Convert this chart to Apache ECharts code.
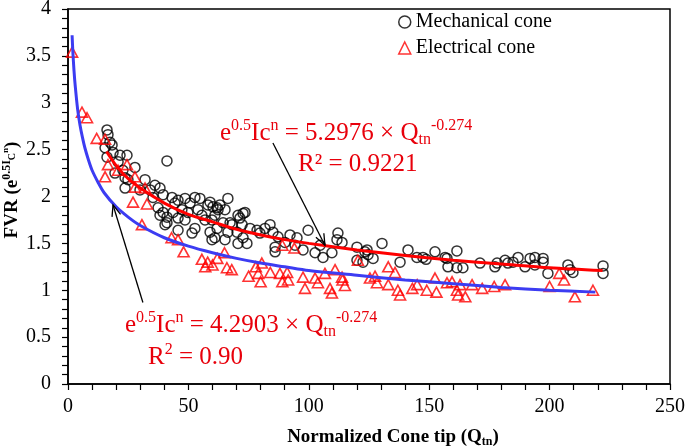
<!DOCTYPE html>
<html><head><meta charset="utf-8">
<script src="https://cdn.jsdelivr.net/npm/echarts@6/dist/echarts.min.js"></script>
<style>html,body{margin:0;padding:0;background:#fff}#c{width:685px;height:448px}</style>
</head><body><div id="c"></div><script>
// ---- data ----
const xTickLabels = ['0','50','100','150','200','250'];
const yTickLabels = ['0','0.5','1','1.5','2','2.5','3','3.5','4'];
const seriesNames = ['Mechanical cone','Electrical cone'];

const mechanicalCone = [
[16.2,2.71],[16.6,2.66],[17.4,2.58],[18.3,2.55],[15.4,2.52],[16.2,2.42],[18.7,2.47],[21.6,2.44],[24.5,2.44],[20.8,2.37],[27.8,2.31],[22.8,2.28],[19.5,2.25],[23.7,2.20],[23.7,2.09],[41.1,2.38],[36.1,2.12],[34.1,2.07],[35.3,1.99],[39.5,2.02],[43.2,1.99],[45.7,1.96],[48.6,1.98],[52.7,1.99],[50.7,1.93],[39.5,1.83],[41.1,1.78],[43.6,1.83],[47.3,1.86],[49.8,1.83],[54.0,1.86],[58.1,1.91],[61.9,1.88],[55.6,1.80],[61.0,1.80],[45.7,1.77],[24.9,2.18],[38.2,2.09],[37.4,1.88],[44.4,1.93],[54.8,1.98],[59.0,1.94],[63.1,1.91],[65.2,1.86],[56.9,1.75],[48.6,1.75],[38.2,1.80],[40.3,1.70],[45.7,1.64],[52.7,1.66],[59.0,1.62],[65.2,1.54],[68.1,1.70],[71.4,1.77],[73.5,1.83],[66.4,1.98],[29.9,2.07],[32.0,2.18],
[41.1,1.72],[51.5,1.61],[59.8,1.54],[70.6,1.50],[86.0,1.41],
[60.2,1.89],[62.3,1.86],[59.8,1.75],[61.0,1.56],[67.3,1.72],[70.6,1.80],[72.7,1.82],[72.3,1.70],[70.2,1.62],[72.7,1.56],[74.3,1.50],[75.6,1.66],[78.5,1.64],[79.7,1.61],[81.8,1.66],[83.9,1.70],[85.1,1.62],[87.2,1.57],[86.0,1.46],[90.1,1.51],[92.2,1.59],[95.1,1.56],[94.3,1.48],[97.6,1.43],[99.7,1.64],[102.6,1.40],[105.9,1.35],[104.7,1.48],[109.6,1.40],[111.7,1.54],[112.1,1.61],[113.8,1.51],[64.4,1.72],[66.4,1.62],[61.9,1.66],
[120.0,1.46],[124.2,1.43],[130.4,1.50],[120.0,1.32],[124.6,1.38],[141.2,1.43],[137.9,1.30],[144.9,1.35],[147.4,1.35],[152.4,1.41],[156.6,1.35],[123.3,1.41],[122.5,1.30],[126.7,1.34],[148.7,1.33],[157.4,1.34],[157.8,1.25],[161.5,1.42],[161.5,1.24],[164.0,1.24],[171.1,1.29],[178.2,1.29],[177.3,1.25],[181.5,1.32],[182.7,1.29],
[186.9,1.35],[189.8,1.25],[191.9,1.34],[193.9,1.35],[193.9,1.27],[197.3,1.34],[197.3,1.30],[199.3,1.18],[207.6,1.27],[208.5,1.22],[209.7,1.19],[222.2,1.26],[222.2,1.18],[184.8,1.30]
];

const electricalCone = [
[1.7,3.54],[5.8,2.90],[7.9,2.84],[11.9,2.62],[15.4,2.61],[16.6,2.34],[15.4,2.21],[24.5,2.34],[20.8,2.28],[27.8,2.21],[27.8,2.10],[32,2.09],[27,1.94],[32.8,1.92],[30.7,1.70],
[43,1.56],[45.7,1.54],[48,1.41],[55.6,1.33],[58,1.30],[57,1.25],[60,1.27],[62,1.34],[65,1.40],[66,1.24],[68,1.22],[75,1.15],[78,1.25],[79,1.18],[80,1.09],[80.5,1.29],[84,1.19],[88,1.18],[89,1.09],[91,1.19],[91.4,1.11],[89,1.48],[94,1.45],[97.6,1.14],[98.4,1.02],[102.6,1.13],[103.8,1.08],[106.7,1.18],[108.8,1.02],[109.6,0.97],[110.9,1.22],[113.8,1.14],
[120.4,1.32],[114,1.11],[115,1.05],[125.4,1.13],[127.5,1.15],[128.3,1.08],[133,1.25],[135.8,1.19],[133,1.06],[137,1.00],[137.9,0.95],[143,1.02],[145,1.06],[149,1.00],[152.4,1.13],[153,0.98],[157.4,1.08],[159.5,1.09],[161.5,1.00],[162,0.95],[165,0.93],[167.8,1.06],[172,1.02],[177,1.04],[181.5,1.06],[162.8,1.06],
[200,1.04],[210.5,0.93],[218,1.00],[204,1.18],[206,1.11]
];

// fitted trend lines
const mechanicalFit = [[16,2.48],[20,2.33],[25,2.19],[30,2.09],[40,1.93],[50,1.81],[60,1.73],[70,1.65],[80,1.59],[90,1.54],[100,1.50],[120,1.43],[140,1.37],[160,1.32],[180,1.28],[200,1.24],[222,1.21]];
const electricalFit = [[1.7,3.72],[2,3.55],[2.5,3.34],[3,3.18],[4,2.93],[5,2.76],[6,2.63],[7,2.52],[8.5,2.39],[10,2.28],[12.5,2.15],[15,2.04],[20,1.89],[25,1.78],[30,1.69],[40,1.56],[50,1.47],[60,1.40],[70,1.34],[80,1.29],[90,1.25],[100,1.21],[120,1.16],[140,1.11],[160,1.07],[180,1.03],[200,1.00],[219,0.98]];

const arrowMech = [[85.1,2.57],[106.7,1.48]];
const arrowElec = [[31.1,0.87],[18.7,1.91]];

// ---- chart ----
const F = 'Liberation Serif, Times New Roman, serif';
const RED = '#ff0000', TXTRED = '#e8000b', BLUE = '#3c3cf2';
const chart = echarts.init(document.getElementById('c'), null, {renderer:'canvas'});
const tickStyle = {color:'#000', width:1.2};
function labelFmt(arr, step){ return v => { const i = Math.round(v/step); return arr[i] !== undefined ? arr[i] : ''; }; }

chart.setOption({
  backgroundColor:'#fff',
  animation:false,
  grid:{left:68, right:15, top:9, bottom:64, show:true, borderColor:'#000', borderWidth:1.5, containLabel:false, outerBoundsMode:'none'},
  legend:{
    orient:'vertical', left:393, top:7, itemWidth:12, itemHeight:12, itemGap:6,
    textStyle:{fontSize:20, fontFamily:F, color:'#000'},
    data:[
      {name:seriesNames[0], icon:'circle', itemStyle:{color:'rgba(0,0,0,0)', borderColor:'#000', borderWidth:1.5}},
      {name:seriesNames[1], icon:'triangle', itemStyle:{color:'rgba(0,0,0,0)', borderColor:RED, borderWidth:1.5}}
    ]
  },
  xAxis:{
    type:'value', min:0, max:250, interval:50,
    axisLine:{show:true, onZero:false, lineStyle:{color:'#000', width:1.5}},
    axisTick:{show:true, length:6, lineStyle:tickStyle},
    minorTick:{show:true, splitNumber:5, length:6, lineStyle:tickStyle},
    splitLine:{show:false}, minorSplitLine:{show:false},
    axisLabel:{fontSize:20, fontFamily:F, color:'#000', margin:13, showMinLabel:true, showMaxLabel:true, formatter:labelFmt(xTickLabels,50)}
  },
  yAxis:{
    type:'value', min:0, max:4, interval:0.5,
    axisLine:{show:true, onZero:false, lineStyle:{color:'#000', width:1.5}},
    axisTick:{show:true, length:6, lineStyle:tickStyle},
    minorTick:{show:true, splitNumber:5, length:6, lineStyle:tickStyle},
    splitLine:{show:false}, minorSplitLine:{show:false},
    axisLabel:{fontSize:20, fontFamily:F, color:'#000', margin:17, showMinLabel:true, showMaxLabel:true, formatter:labelFmt(yTickLabels,0.5)}
  },
  series:[
    {name:seriesNames[0], type:'scatter', data:mechanicalCone, symbol:'circle', symbolSize:10,
     itemStyle:{color:'rgba(0,0,0,0)', borderColor:'#000', borderWidth:1.5}, z:2},
    {name:seriesNames[1], type:'scatter', data:electricalCone, symbol:'triangle', symbolSize:[11,10],
     itemStyle:{color:'rgba(0,0,0,0)', borderColor:RED, borderWidth:1.6}, z:3},
    {name:'mechFit', type:'line', data:mechanicalFit, smooth:0.3, showSymbol:false, symbol:'none',
     lineStyle:{color:RED, width:3}, z:4},
    {name:'elecFit', type:'line', data:electricalFit, smooth:0.3, showSymbol:false, symbol:'none',
     lineStyle:{color:BLUE, width:3}, z:4}
  ]
});

function arrow(from, to){
  const p0 = chart.convertToPixel({gridIndex:0}, from);
  const p1 = chart.convertToPixel({gridIndex:0}, to);
  const ang = Math.atan2(p1[1]-p0[1], p1[0]-p0[0]);
  const L = 12, a = 0.38;
  const h1 = [p1[0]-L*Math.cos(ang-a), p1[1]-L*Math.sin(ang-a)];
  const h2 = [p1[0]-L*Math.cos(ang+a), p1[1]-L*Math.sin(ang+a)];
  return [
    {type:'line', z:20, shape:{x1:p0[0],y1:p0[1],x2:p1[0],y2:p1[1]}, style:{stroke:'#000', lineWidth:1.3}},
    {type:'polyline', z:20, shape:{points:[h1,p1,h2]}, style:{stroke:'#000', lineWidth:1.3, fill:null}}
  ];
}

const eqRich = {
  b:{fontSize:25, lineHeight:30, fontFamily:F, fill:TXTRED},
  s:{fontSize:16, lineHeight:16, fontFamily:F, fill:TXTRED, verticalAlign:'top'},
  u:{fontSize:16, lineHeight:16, fontFamily:F, fill:TXTRED, verticalAlign:'bottom'}
};
function txt(x, y, text, rich){
  return {type:'text', z:20, x:x, y:y, style:{text:text, rich:rich, align:'left', verticalAlign:'middle'}};
}

const g = [].concat(
  arrow(arrowMech[0], arrowMech[1]),
  arrow(arrowElec[0], arrowElec[1]),
  [
    txt(220, 133, '{b|e}{s|0.5}{b|Ic}{s|n}{b| = 5.2976 × Q}{u|tn}{s|-0.274}', eqRich),
    txt(298, 164, '{b|R² = 0.9221}', eqRich),
    txt(125, 325, '{b|e}{s|0.5}{b|Ic}{s|n}{b| = 4.2903 × Q}{u|tn}{s|-0.274}', eqRich),
    txt(148, 357, '{b|R}{s|2}{b| = 0.90}', eqRich),
    {type:'text', z:20, x:393, y:437, style:{
      text:'{b|Normalized Cone tip (Q}{u|tn}{b|)}', align:'center', verticalAlign:'middle',
      rich:{b:{fontSize:19, lineHeight:22, fontFamily:F, fontWeight:'bold', fill:'#000'},
            u:{fontSize:12, lineHeight:12, fontFamily:F, fontWeight:'bold', fill:'#000', verticalAlign:'bottom'}}}},
    {type:'text', z:20, x:12, y:190, rotation:Math.PI/2, style:{
      text:'{b|FVR (e}{s|0.5I}{c|C}{n|n}{b|)}', align:'center', verticalAlign:'middle',
      rich:{b:{fontSize:19, lineHeight:22, fontFamily:F, fontWeight:'bold', fill:'#000'},
            s:{fontSize:12, lineHeight:12, fontFamily:F, fontWeight:'bold', fill:'#000', verticalAlign:'top'},
            c:{fontSize:10, lineHeight:14, fontFamily:F, fontWeight:'bold', fill:'#000', verticalAlign:'middle'},
            n:{fontSize:9, lineHeight:9, fontFamily:F, fontWeight:'bold', fill:'#000', verticalAlign:'top'}}}}
  ]
);
chart.setOption({graphic:{elements:g}});
</script></body></html>
